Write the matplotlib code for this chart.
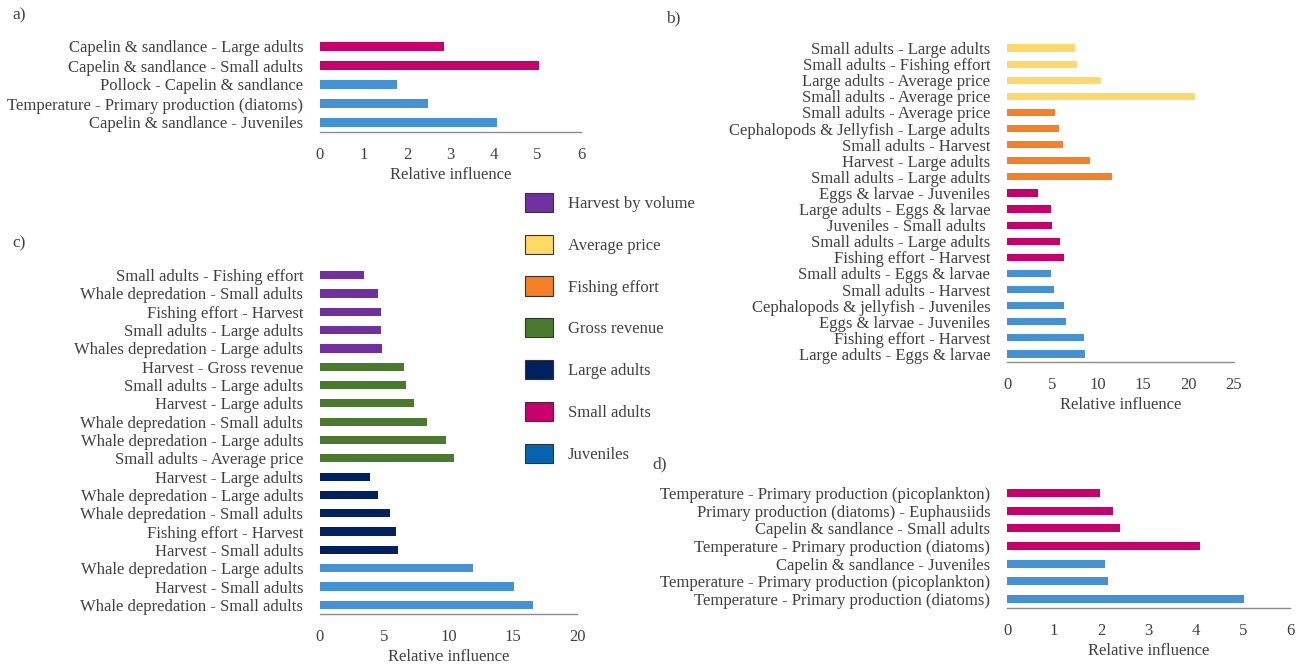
import matplotlib.pyplot as plt
import numpy as np
from matplotlib.patches import Patch

# ---- data, bars listed top to bottom ----
labels_a = [
    "Capelin & sandlance - Large adults",
    "Capelin & sandlance - Small adults",
    "Pollock - Capelin & sandlance",
    "Temperature - Primary production (diatoms)",
    "Capelin & sandlance - Juveniles",
]
values_a = [2.85, 5.03, 1.77, 2.48, 4.07]
groups_a = ["small", "small", "juv", "juv", "juv"]

labels_b = [
    "Small adults - Large adults",
    "Small adults - Fishing effort",
    "Large adults - Average price",
    "Small adults - Average price",
    "Small adults - Average price",
    "Cephalopods & Jellyfish - Large adults",
    "Small adults - Harvest",
    "Harvest - Large adults",
    "Small adults - Large adults",
    "Eggs & larvae - Juveniles",
    "Large adults - Eggs & larvae",
    "Juveniles - Small adults ",
    "Small adults - Large adults",
    "Fishing effort - Harvest",
    "Small adults - Eggs & larvae",
    "Small adults - Harvest",
    "Cephalopods & jellyfish - Juveniles",
    "Eggs & larvae - Juveniles",
    "Fishing effort - Harvest",
    "Large adults - Eggs & larvae",
]
values_b = [7.46, 7.76, 10.3, 20.75, 5.34, 5.73, 6.18, 9.09, 11.56,
            3.41, 4.89, 4.94, 5.83, 6.23, 4.89, 5.19, 6.27, 6.47, 8.5, 8.6]
groups_b = ["price"] * 4 + ["effort"] * 5 + ["small"] * 5 + ["juv"] * 6

labels_c = [
    "Small adults - Fishing effort",
    "Whale depredation - Small adults",
    "Fishing effort - Harvest",
    "Small adults - Large adults",
    "Whales depredation - Large adults",
    "Harvest - Gross revenue",
    "Small adults - Large adults",
    "Harvest - Large adults",
    "Whale depredation - Small adults",
    "Whale depredation - Large adults",
    "Small adults - Average price",
    "Harvest - Large adults",
    "Whale depredation - Large adults",
    "Whale depredation - Small adults",
    "Fishing effort - Harvest",
    "Harvest - Small adults",
    "Whale depredation - Large adults",
    "Harvest - Small adults",
    "Whale depredation - Small adults",
]
values_c = [3.39, 4.49, 4.73, 4.76, 4.82, 6.55, 6.67, 7.32, 8.36, 9.79,
            10.45, 3.9, 4.52, 5.48, 5.95, 6.07, 11.9, 15.06, 16.58]
groups_c = ["volume"] * 5 + ["revenue"] * 6 + ["large"] * 5 + ["juv"] * 3

labels_d = [
    "Temperature - Primary production (picoplankton)",
    "Primary production (diatoms) - Euphausiids",
    "Capelin & sandlance - Small adults",
    "Temperature - Primary production (diatoms)",
    "Capelin & sandlance - Juveniles",
    "Temperature - Primary production (picoplankton)",
    "Temperature - Primary production (diatoms)",
]
values_d = [1.97, 2.25, 2.4, 4.09, 2.08, 2.14, 5.02]
groups_d = ["small"] * 4 + ["juv"] * 3

legend_keys = ["volume", "price", "effort", "revenue", "large", "small", "juv"]
legend_labels = ["Harvest by volume", "Average price", "Fishing effort",
                 "Gross revenue", "Large adults", "Small adults", "Juveniles"]

# ---- style ----
bar_colors = {
    "volume": "#7030a0",
    "price": "#ffd966",
    "effort": "#f58025",
    "revenue": "#4a7a2e",
    "large": "#002060",
    "small": "#c9006b",
    "juv": "#4591d6",
}
patch_colors = dict(bar_colors, juv="#0563af")
TEXT = "#404040"
FS = 12

plt.rcParams.update({
    "font.family": "Liberation Serif",
    "font.size": FS,
    "text.color": TEXT,
    "axes.labelcolor": TEXT,
    "xtick.color": TEXT,
    "ytick.color": TEXT,
})

W, H = 1303, 667
fig = plt.figure(figsize=(W / 100, H / 100), dpi=100)


def px_axes(x0, x1, top, bottom):
    return fig.add_axes([x0 / W, 1 - bottom / H, (x1 - x0) / W, (bottom - top) / H])


def draw_panel(ax, labels, values, groups, xmax, step):
    n = len(labels)
    y = np.arange(n)
    ax.barh(y, values, height=0.45, color=[bar_colors[g] for g in groups])
    ax.set_ylim(n - 0.5, -0.5)
    ax.set_xlim(0, xmax)
    ax.set_xticks(np.arange(0, xmax + step / 2, step))
    ax.set_yticks(y)
    ax.set_yticklabels(labels)
    for side in ["top", "right", "left"]:
        ax.spines[side].set_visible(False)
    ax.spines["bottom"].set_color("#8c8c8c")
    ax.spines["bottom"].set_linewidth(1.0)
    ax.tick_params(axis="both", length=0, labelsize=FS)
    ax.tick_params(axis="y", pad=12)
    ax.tick_params(axis="x", pad=11)
    ax.set_xlabel("Relative influence", fontsize=FS, labelpad=3)


ax_a = px_axes(320, 581, 37, 132)
draw_panel(ax_a, labels_a, values_a, groups_a, 6, 1)

ax_b = px_axes(1007, 1234, 40, 362)
draw_panel(ax_b, labels_b, values_b, groups_b, 25, 5)

ax_c = px_axes(320, 577, 266, 614)
draw_panel(ax_c, labels_c, values_c, groups_c, 20, 5)

ax_d = px_axes(1007, 1290, 484, 608)
draw_panel(ax_d, labels_d, values_d, groups_d, 6, 1)

for txt, x, y in [("a)", 12, 15), ("b)", 666, 18), ("c)", 12, 243), ("d)", 652, 464)]:
    fig.text(x / W, 1 - y / H, txt, fontsize=12.5, ha="left", va="center")

handles = [Patch(facecolor=patch_colors[k], edgecolor="#333333", linewidth=0.8)
           for k in legend_keys]
fig.legend(handles, legend_labels, loc="upper left",
           bbox_to_anchor=(525 / W, 1 - 193 / H), frameon=False,
           borderaxespad=0, borderpad=0, fontsize=FS,
           handlelength=1.7, handleheight=1.4, labelspacing=1.35,
           handletextpad=0.85)

fig.savefig("out.png", dpi=100, facecolor="white")
